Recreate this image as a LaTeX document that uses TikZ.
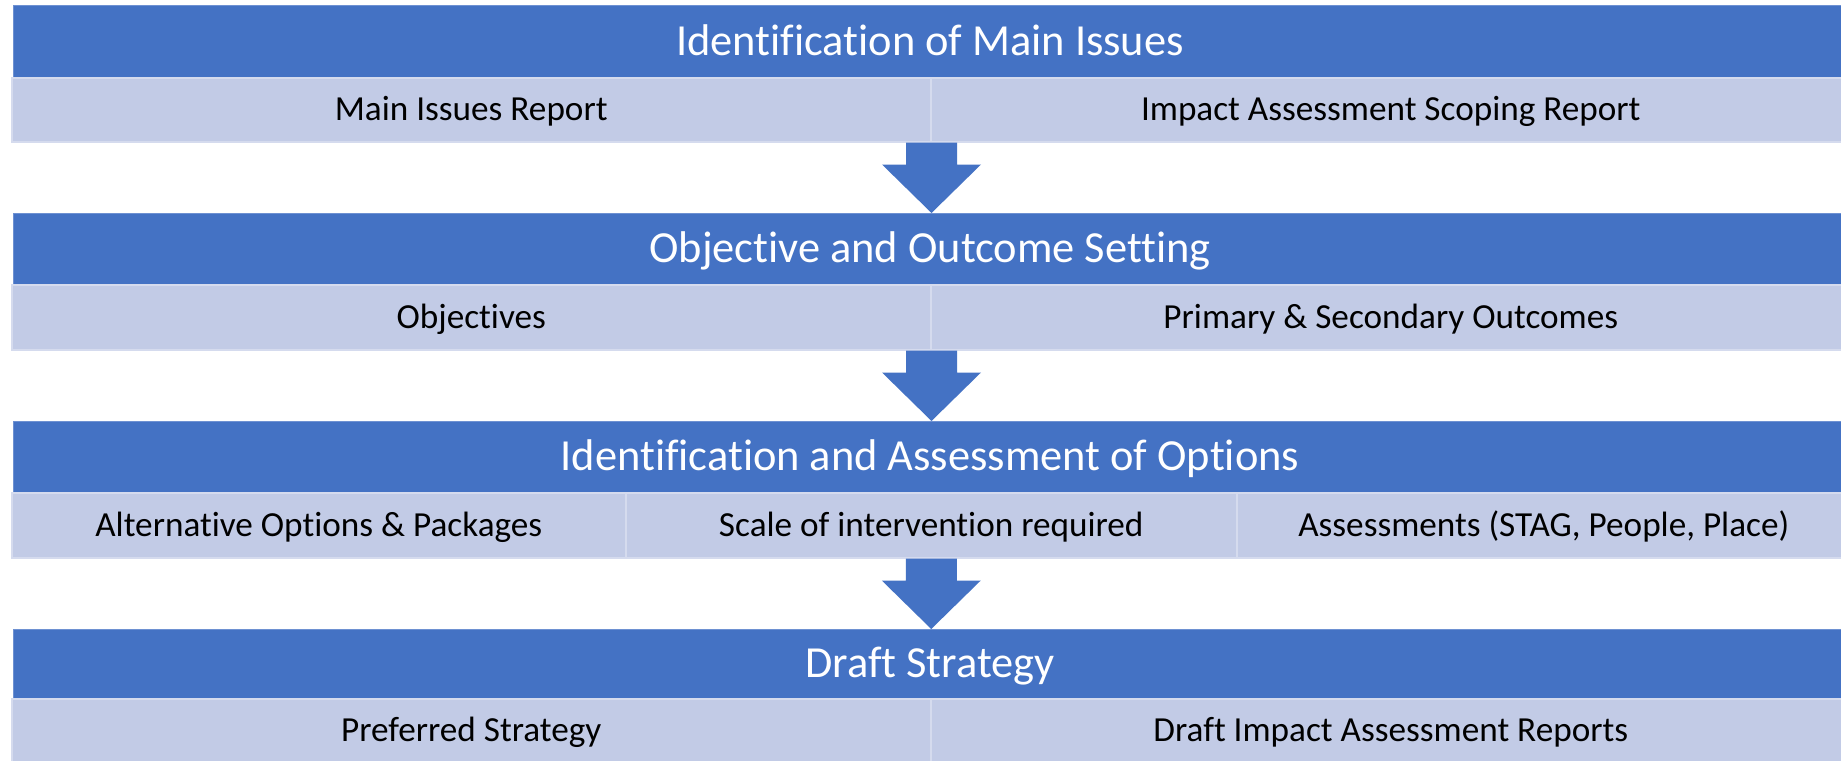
\documentclass[tikz,border=0pt]{standalone}
\usepackage{fontspec}
\setmainfont{Carlito}[Ligatures={NoCommon}]
\usetikzlibrary{calc}
\definecolor{hdrblue}{RGB}{68,114,196}
\definecolor{hdredge}{RGB}{110,145,210}
\definecolor{subfill}{RGB}{194,203,230}
\definecolor{subedge}{RGB}{213,219,238}
\tikzset{
  hdrband/.style={rectangle, fill=hdrblue, draw=hdredge, line width=0.8pt, inner sep=0pt, anchor=north west, minimum width=1834pt},
  hdrtext/.style={text=white, inner sep=0pt, font=\fontsize{44.4}{48}\selectfont, text height=28.1pt, text depth=0pt},
  subcell/.style={rectangle, fill=subfill, draw=subedge, line width=1.5pt, inner sep=0pt, anchor=north west, text=black, font=\fontsize{35.2}{38}\selectfont, text height=22.2pt, text depth=0pt},
  blockarrow/.style={fill=hdrblue}
}
\newcommand\downblock[2]{%
  \fill[blockarrow] ($(#1)+(-25.5,0)$) -- ($(#1)+(25.5,0)$) -- ($(#1)+(25.5,22)$) -- ($(#1)+(49.5,22)$)
    -- (#2.north -| #1) -- ($(#1)+(-49.5,22)$) -- ($(#1)+(-25.5,22)$) -- cycle;}
\begin{document}
\begin{tikzpicture}[x=1pt,y=-1pt]
\useasboundingbox (0,0) rectangle (1841,760);
\fill[white] (0,0) rectangle (1841,760);
% Row 1
\node[hdrband, minimum height=72pt] (h1) at (13,5) {};
\node[hdrtext] (t1) at (930,41) {Identification of Main Issues};
\node[subcell, minimum width=919pt, minimum height=64pt] (r1a) at (11,77) {Main Issues Report};
\node[subcell, minimum width=920pt, minimum height=64pt] (r1b) at (930,77) {Impact Assessment Scoping Report};
% Row 2
\node[hdrband, minimum height=71pt] (h2) at (13,213) {};
\node[hdrtext] (t2) at (930,248.5) {Objective and Outcome Setting};
\node[subcell, minimum width=919pt, minimum height=65pt] (r2a) at (11,284) {Objectives};
\node[subcell, minimum width=920pt, minimum height=65pt] (r2b) at (930,284) {Primary \& Secondary Outcomes};
% Row 3
\node[hdrband, minimum height=71pt] (h3) at (13,421) {};
\node[hdrtext] (t3) at (930,456.5) {Identification and Assessment of Options};
\node[subcell, minimum width=614pt, minimum height=65pt] (r3a) at (11,492) {Alternative Options \& Packages};
\node[subcell, minimum width=611pt, minimum height=65pt] (r3b) at (625,492) {Scale of intervention required};
\node[subcell, minimum width=614pt, minimum height=65pt] (r3c) at (1236,492) {Assessments (STAG, People, Place)};
% Row 4
\node[hdrband, minimum height=69pt] (h4) at (13,629) {};
\node[hdrtext] (t4) at (930,663.5) {Draft Strategy};
\node[subcell, minimum width=919pt, minimum height=64pt] (r4a) at (11,698) {Preferred Strategy};
\node[subcell, minimum width=920pt, minimum height=64pt] (r4b) at (930,698) {Draft Impact Assessment Reports};
% Arrows
\coordinate (a1) at (r1a.south east);
\coordinate (a2) at (r2a.south east);
\coordinate (a3) at (r3b.south);
\downblock{a1}{h2}
\downblock{a2}{h3}
\downblock{a3}{h4}
\end{tikzpicture}
\end{document}
